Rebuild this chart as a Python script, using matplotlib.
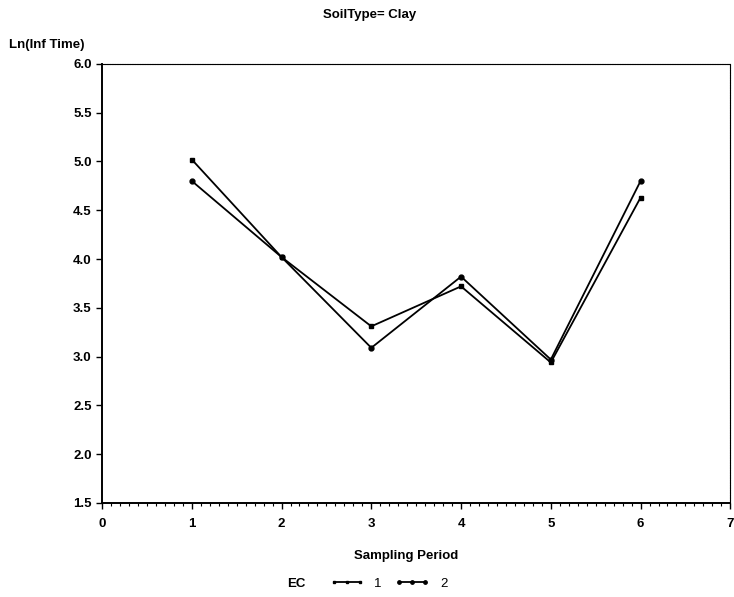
import matplotlib
matplotlib.use('Agg')
import matplotlib.pyplot as plt
from matplotlib.ticker import MultipleLocator

plt.rcParams['font.family'] = ['Liberation Sans', 'DejaVu Sans']

# sampling periods and Ln(Inf Time) per EC group
period = [1, 2, 3, 4, 5, 6]
ec1 = [5.02, 4.02, 3.31, 3.72, 2.94, 4.63]
ec2 = [4.80, 4.02, 3.09, 3.82, 2.97, 4.80]

x_ticks = [0, 1, 2, 3, 4, 5, 6, 7]
y_ticks = [1.5, 2.0, 2.5, 3.0, 3.5, 4.0, 4.5, 5.0, 5.5, 6.0]

fig = plt.figure(figsize=(7.34, 5.97), dpi=100)
ax = fig.add_axes([0.139, 0.1575, 0.856, 0.7355])

l1, = ax.plot(period, ec1, color='black', linewidth=1.3, marker='s', markersize=3)
l2, = ax.plot(period, ec2, color='black', linewidth=1.3, marker='o', markersize=3.5)

ax.set_xlim(0, 7)
ax.set_ylim(1.5, 6.0)
ax.set_xticks(x_ticks)
ax.set_yticks(y_ticks)
ax.set_yticklabels([f'{v:.1f}' for v in y_ticks])
ax.xaxis.set_minor_locator(MultipleLocator(0.1))
ax.tick_params(axis='both', which='major', length=4, width=1, labelsize=9.5, direction='out')
ax.tick_params(axis='x', which='major', pad=7)
ax.tick_params(axis='x', which='minor', length=2, width=0.8, direction='out')
for lab in ax.get_xticklabels() + ax.get_yticklabels():
    lab.set_fontweight('bold')

for side in ['left', 'bottom']:
    ax.spines[side].set_linewidth(1.4)
for side in ['top', 'right']:
    ax.spines[side].set_linewidth(0.8)
    ax.spines[side].set_linestyle((0, (1, 0.5)))

fig.text(0.504, 0.975, 'SoilType= Clay', ha='center', va='center', fontsize=9.5, fontweight='bold')
fig.text(0.012, 0.925, 'Ln(Inf Time)', ha='left', va='center', fontsize=9.5, fontweight='bold')
fig.text(0.553, 0.068, 'Sampling Period', ha='center', va='center', fontsize=9.5, fontweight='bold')
fig.text(0.404, 0.022, 'EC', ha='center', va='center', fontsize=9.5, fontweight='bold')

fig.legend([l1, l2], ['1', '2'], loc='center left', bbox_to_anchor=(0.44, 0.022),
           ncol=2, frameon=False, fontsize=9.5, handlelength=2.6, numpoints=3,
           markerscale=0.7, columnspacing=1.0, handletextpad=0.8, borderpad=0)

fig.savefig('out.png', dpi=100)
